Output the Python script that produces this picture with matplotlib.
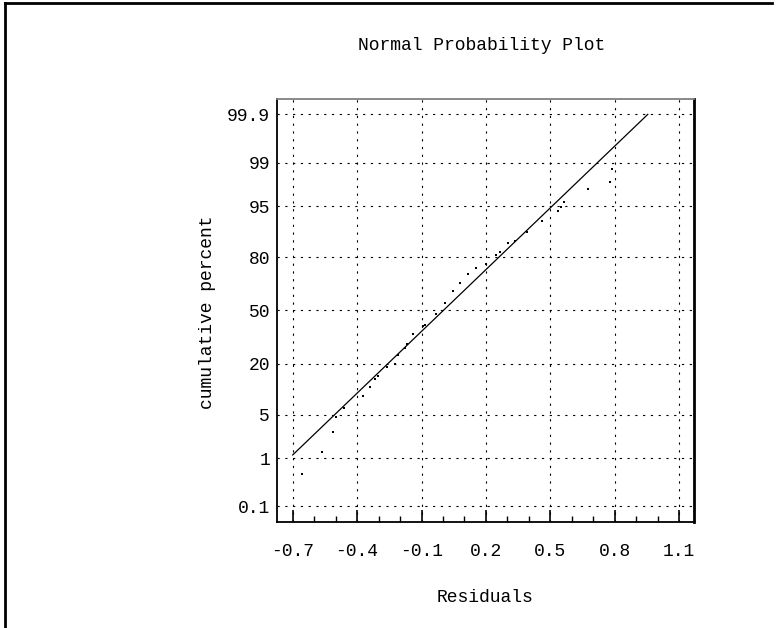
import math
from statistics import NormalDist

import numpy as np
import matplotlib
matplotlib.use("Agg")
import matplotlib.pyplot as plt
from matplotlib.lines import Line2D
from matplotlib.ticker import FixedLocator, FixedFormatter, NullLocator

# residuals, with their cumulative percent
residuals = [-0.658, -0.565, -0.514, -0.498, -0.461, -0.373, -0.340, -0.316, -0.301,
             -0.263, -0.224, -0.208, -0.177, -0.169, -0.138, -0.091, -0.084, -0.034,
             0.009, 0.048, 0.079, 0.118, 0.156, 0.200, 0.245, 0.266, 0.301, 0.335,
             0.391, 0.461, 0.534, 0.549, 0.564, 0.677, 0.778, 0.786]
cum_percent = [0.50, 1.28, 2.76, 4.6, 6.3, 8.9, 11.4, 13.9, 15.2,
               18.6, 20.0, 24.2, 27.5, 29.7, 35.6, 40.5, 41.1, 47.6,
               54.7, 61.8, 66.7, 71.7, 74.8, 76.7, 80.9, 82.1, 85.6, 86.4,
               89.3, 92.0, 94.2, 94.8, 95.7, 97.2, 97.9, 98.7]

# fitted normal line
fit_mean = 0.0015
fit_sd = 0.308
line_x = [-0.7, 0.954]

x_ticks = [-0.7, -0.4, -0.1, 0.2, 0.5, 0.8, 1.1]
x_labels = ["-0.7", "-0.4", "-0.1", "0.2", "0.5", "0.8", "1.1"]
y_ticks = [0.1, 1, 5, 20, 50, 80, 95, 99, 99.9]
y_labels = ["0.1", "1", "5", "20", "50", "80", "95", "99", "99.9"]

nd = NormalDist()
_ppf = np.vectorize(lambda p: nd.inv_cdf(min(max(p / 100.0, 1e-12), 1 - 1e-12)),
                    otypes=[float])
_cdf = np.vectorize(lambda z: 50.0 * (1.0 + math.erf(z / math.sqrt(2.0))),
                    otypes=[float])


def forward(p):
    return _ppf(np.asarray(p, dtype=float))


def inverse(z):
    return _cdf(np.asarray(z, dtype=float))


plt.rcParams["font.family"] = ["Liberation Mono", "DejaVu Sans Mono"]
plt.rcParams["axes.unicode_minus"] = False

fig = plt.figure(figsize=(7.76, 6.28), dpi=100)
ax = fig.add_axes([0.357, 0.1688, 0.537, 0.6736])
ax.set_yscale("function", functions=(forward, inverse))

ax.plot(residuals, cum_percent, linestyle="none", marker="s", ms=2.0,
        color="black", mew=0)

lx = np.array(line_x)
ax.plot(lx, inverse((lx - fit_mean) / fit_sd), color="black", lw=0.9)

ax.set_xlim(-0.773, 1.168)
ax.set_ylim(float(inverse(-3.335)), float(inverse(3.335)))

ax.xaxis.set_major_locator(FixedLocator(x_ticks))
ax.xaxis.set_major_formatter(FixedFormatter(x_labels))
ax.xaxis.set_minor_locator(FixedLocator(np.round(np.arange(-0.7, 1.15, 0.1), 2)))
ax.yaxis.set_major_locator(FixedLocator(y_ticks))
ax.yaxis.set_major_formatter(FixedFormatter(y_labels))
ax.yaxis.set_minor_locator(NullLocator())

ax.tick_params(axis="x", which="major", direction="in", length=9, width=1.2,
               pad=15, labelsize=13)
ax.tick_params(axis="x", which="minor", direction="in", length=4, width=1.0)
ax.tick_params(axis="y", which="both", length=0, pad=5, labelsize=13)

ax.grid(True, which="major", color="black", linestyle=(0, (2, 5)), lw=0.8)

for side in ["left", "bottom"]:
    ax.spines[side].set_linewidth(1.3)
ax.spines["right"].set_linewidth(2.0)
ax.spines["top"].set_linewidth(1.3)
ax.spines["top"].set_color("#808080")

fig.text(0.6205, 0.9268, "Normal Probability Plot", ha="center", va="center",
         fontsize=13)
fig.text(0.625, 0.0478, "Residuals", ha="center", va="center", fontsize=13)
fig.text(0.268, 0.503, "cumulative percent", ha="center", va="center",
         rotation=90, fontsize=13)

# frame of the scanned page
fig.add_artist(Line2D([0.007, 0.007], [0.0, 0.996], color="black", lw=2.0))
fig.add_artist(Line2D([0.007, 0.995], [0.996, 0.996], color="black", lw=2.0))

fig.savefig("out.png", dpi=100)
